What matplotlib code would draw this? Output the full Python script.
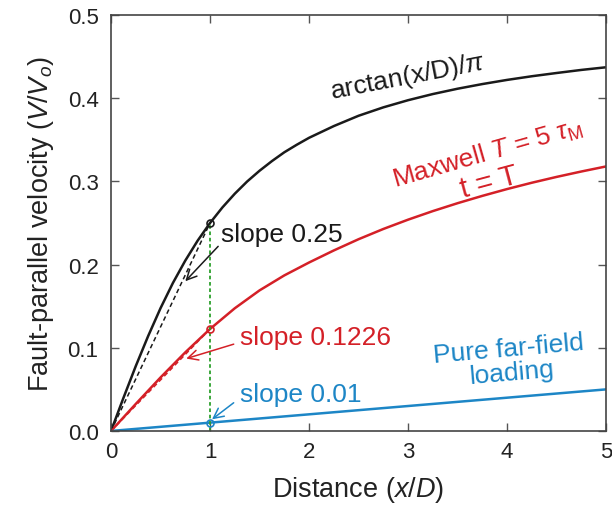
import matplotlib
matplotlib.use("Agg")
import matplotlib.pyplot as plt

plt.rcParams["font.family"] = ["Liberation Sans", "DejaVu Sans"]
plt.rcParams["mathtext.fontset"] = "custom"
plt.rcParams["mathtext.rm"] = "Liberation Sans"
plt.rcParams["mathtext.it"] = "Liberation Sans:italic"
plt.rcParams["mathtext.sf"] = "Liberation Sans"

# Elastic (arctan) profile
x_arc = [0, 0.125, 0.25, 0.375, 0.5, 0.625, 0.75, 0.875, 1.0, 1.125, 1.25, 1.375,
         1.5, 1.625, 1.75, 1.875, 2.0, 2.25, 2.5, 2.75, 3.0, 3.25, 3.5, 3.75,
         4.0, 4.25, 4.5, 4.75, 5.0]
v_arc = [0, 0.0396, 0.0780, 0.1141, 0.1476, 0.1779, 0.2048, 0.2288, 0.25, 0.2687,
         0.2852, 0.2999, 0.3128, 0.3244, 0.3350, 0.3440, 0.3524, 0.3665, 0.3789,
         0.3890, 0.3976, 0.4050, 0.4114, 0.4170, 0.4220, 0.4264, 0.4303, 0.4340,
         0.4372]

# Maxwell viscoelastic profile at t = T
x_max = [0, 0.25, 0.5, 0.75, 1.0, 1.25, 1.5, 1.75, 2.0, 2.25, 2.5, 2.75, 3.0,
         3.25, 3.5, 3.75, 4.0, 4.25, 4.5, 4.75, 5.0]
v_max = [0, 0.0325, 0.0643, 0.0945, 0.1226, 0.1475, 0.1690, 0.1870, 0.2025,
         0.2170, 0.2305, 0.2428, 0.2540, 0.2643, 0.2738, 0.2826, 0.2908, 0.2984,
         0.3054, 0.3119, 0.3180]

# Pure far-field loading
x_far = [0, 5]
v_far = [0, 0.05]

# Secant slopes evaluated at x/D = 1
x_ref = 1.0
slopes = [0.25, 0.1226, 0.01]

BLACK = "#1a1a1a"
RED = "#d42027"
BLUE = "#1d86c6"
GREEN = "#2ca02c"

fig = plt.figure(figsize=(6.12, 5.10), dpi=100)
ax = fig.add_axes([0.1814, 0.153, 0.809, 0.8156])

ax.plot(x_arc, v_arc, color=BLACK, lw=1.8)
ax.plot(x_max, v_max, color=RED, lw=1.8)
ax.plot(x_far, v_far, color=BLUE, lw=1.8)

# Secant lines from the origin to the x/D = 1 point
ax.plot([0, x_ref], [0, slopes[0] * x_ref], color=BLACK, lw=1.1, ls=(0, (3, 2)))
ax.plot([0, x_ref], [0, slopes[1] * x_ref], color=RED, lw=1.1, ls=(0, (3, 2)))

# Vertical guide at x/D = 1
ax.plot([x_ref, x_ref], [0, slopes[0] * x_ref], color=GREEN, lw=1.3, ls=(0, (2, 1.5)))

for s, c in zip(slopes, [BLACK, RED, BLUE]):
    ax.plot([x_ref], [s * x_ref], marker="o", ms=5, mfc="none", mec=c, mew=1.2)

# Annotations
ax.text(3.0, 0.426, r"arctan(x/D)/$\pi$", color=BLACK, fontsize=19,
        rotation=11, ha="center", va="center")
ax.text(3.8, 0.334, r"Maxwell $T$ = 5 $\tau_{\rm M}$", color=RED, fontsize=19,
        rotation=16, ha="center", va="center")
ax.text(3.82, 0.300, "t = T", color=RED, fontsize=21,
        rotation=15, ha="center", va="center")
ax.text(4.03, 0.085, "Pure far-field\nloading", color=BLUE, fontsize=19,
        rotation=5, ha="center", va="center", linespacing=1.0)

arrow = dict(arrowstyle="->", lw=1.1, shrinkA=0, shrinkB=0, mutation_scale=18)
ax.annotate("slope 0.25", xy=(0.75, 0.180), xytext=(1.11, 0.237),
            color=BLACK, fontsize=19, ha="left", va="center",
            arrowprops=dict(color=BLACK, relpos=(0.0, 0.1), **arrow))
ax.annotate("slope 0.1226", xy=(0.76, 0.087), xytext=(1.30, 0.113),
            color=RED, fontsize=19, ha="left", va="center",
            arrowprops=dict(color=RED, relpos=(-0.04, 0.2), **arrow))
ax.annotate("slope 0.01", xy=(1.02, 0.014), xytext=(1.30, 0.044),
            color=BLUE, fontsize=19, ha="left", va="center",
            arrowprops=dict(color=BLUE, relpos=(-0.05, 0.15), **arrow))

ax.set_xlim(0, 5)
ax.set_ylim(0, 0.5)
ax.set_xticks([0, 1, 2, 3, 4, 5])
ax.set_yticks([0.0, 0.1, 0.2, 0.3, 0.4, 0.5])
ax.set_yticklabels(["0.0", "0.1", "0.2", "0.3", "0.4", "0.5"])
ax.tick_params(direction="in", top=True, right=True, length=6, width=1.0,
               color="#555555", labelsize=16, labelcolor="#222222")
ax.tick_params(axis="x", pad=7)
ax.tick_params(axis="y", pad=9)
for sp in ax.spines.values():
    sp.set_color("#444444")
    sp.set_linewidth(1.2)

ax.set_xlabel(r"Distance ($x$/$D$)", fontsize=19.5, color="#222222", labelpad=9)
ax.set_ylabel(r"Fault-parallel velocity ($V$/$V_o$)", fontsize=19.5,
              color="#222222", labelpad=8)

fig.savefig("out.png", dpi=100)
